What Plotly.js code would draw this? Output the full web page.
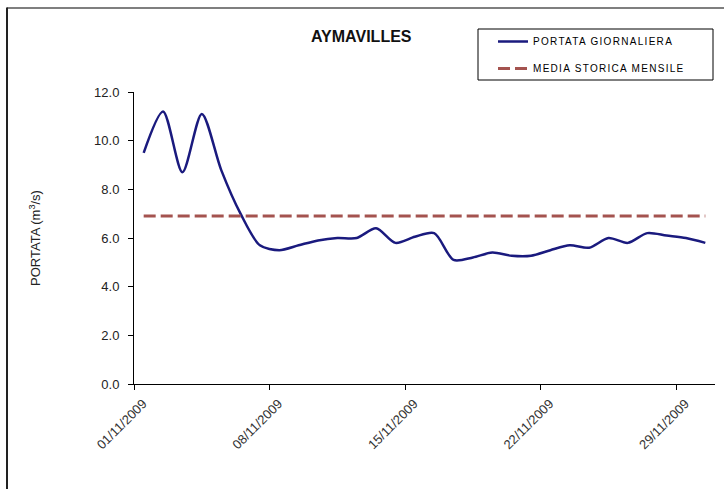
<!DOCTYPE html>
<html>
<head>
<meta charset="utf-8">
<script src="https://cdn.plot.ly/plotly-3.0.1.min.js"></script>
<style>
html,body{margin:0;padding:0;background:#fff;}
#chart{width:724px;height:489px;}
.legendtext{letter-spacing:1.3px;}
</style>
</head>
<body>
<div id="chart"></div>
<script>
// Data
var days = ['2009-11-01','2009-11-02','2009-11-03','2009-11-04','2009-11-05','2009-11-06','2009-11-07','2009-11-08','2009-11-09','2009-11-10',
            '2009-11-11','2009-11-12','2009-11-13','2009-11-14','2009-11-15','2009-11-16','2009-11-17','2009-11-18','2009-11-19','2009-11-20',
            '2009-11-21','2009-11-22','2009-11-23','2009-11-24','2009-11-25','2009-11-26','2009-11-27','2009-11-28','2009-11-29','2009-11-30'];
var portataGiornaliera = [9.5, 11.2, 8.7, 11.1, 8.8, 7.0, 5.7, 5.5, 5.7, 5.9,
                          6.0, 6.0, 6.4, 5.8, 6.05, 6.2, 5.1, 5.2, 5.4, 5.27,
                          5.27, 5.5, 5.7, 5.6, 6.0, 5.8, 6.2, 6.1, 6.0, 5.8];
var mediaStoricaMensile = [6.9, 6.9, 6.9, 6.9, 6.9, 6.9, 6.9, 6.9, 6.9, 6.9,
                           6.9, 6.9, 6.9, 6.9, 6.9, 6.9, 6.9, 6.9, 6.9, 6.9,
                           6.9, 6.9, 6.9, 6.9, 6.9, 6.9, 6.9, 6.9, 6.9, 6.9];
var tickDates = ['2009-11-01','2009-11-08','2009-11-15','2009-11-22','2009-11-29'];
var tickLabels = ['01/11/2009','08/11/2009','15/11/2009','22/11/2009','29/11/2009'];
var seriesNames = ['PORTATA GIORNALIERA','MEDIA STORICA MENSILE'];
var chartTitle = 'AYMAVILLES';
var yTitle = 'PORTATA (m<sup>3</sup>/s)';

// points sit in the middle of each day (Excel date axis style)
var xMid = days.map(function(d){ return d + ' 12:00'; });

var FONT = 'Liberation Sans, Arial, sans-serif';

var traces = [
  {
    x: xMid, y: portataGiornaliera, name: seriesNames[0], type: 'scatter', mode: 'lines',
    line: {color: '#1a1a7e', width: 2.5, shape: 'spline', smoothing: 0.8},
    legendgroup: 'a', hoverinfo: 'x+y'
  },
  {
    x: xMid, y: mediaStoricaMensile, name: seriesNames[1], type: 'scatter', mode: 'lines',
    line: {color: '#a4534f', width: 3, dash: '12px,5px'},
    legendgroup: 'b', hoverinfo: 'x+y'
  }
];

var layout = {
  width: 724, height: 489,
  margin: {l: 134, r: 9, t: 92, b: 105},
  paper_bgcolor: '#fff', plot_bgcolor: '#fff',
  font: {family: FONT, color: '#222'},
  showlegend: true,
  title: {
    text: '<b>' + chartTitle + '</b>',
    font: {family: FONT, size: 16, color: '#111'},
    x: 0.499, xref: 'container', xanchor: 'center',
    y: 1 - 36/489, yref: 'container', yanchor: 'middle'
  },
  xaxis: {
    type: 'date',
    range: ['2009-11-01', '2009-12-01'],
    tickvals: tickDates, ticktext: tickLabels,
    tickangle: -45,
    tickfont: {family: FONT, size: 13, color: '#333'},
    ticks: 'outside', ticklen: 5, tickcolor: '#000', tickwidth: 1,
    ticklabelshift: 9, ticklabelstandoff: 1,
    showline: true, linecolor: '#000', linewidth: 1,
    showgrid: false, zeroline: false, fixedrange: true
  },
  yaxis: {
    range: [0, 12], dtick: 2, tick0: 0, tickformat: '.1f',
    tickfont: {family: FONT, size: 13, color: '#222'},
    ticks: 'outside', ticklen: 5, tickcolor: '#000', tickwidth: 1,
    ticklabelstandoff: 6,
    showline: true, linecolor: '#000', linewidth: 1,
    showgrid: false, zeroline: false, fixedrange: true,
    title: {text: yTitle, font: {family: FONT, size: 13, color: '#222'}, standoff: 50}
  },
  legend: {
    x: (493 - 134) / 581, xanchor: 'left',
    y: 1 + (92 - 27) / 292, yanchor: 'top',
    bgcolor: 'rgba(0,0,0,0)', borderwidth: 0,
    font: {family: FONT, size: 10, color: '#000'},
    tracegroupgap: 8, itemwidth: 30
  },
  shapes: [
    {type: 'rect', xref: 'paper', yref: 'paper',
     x0: (478 - 134) / 581, x1: (713 - 134) / 581,
     y0: 1 + (92 - 80) / 292, y1: 1 + (92 - 29) / 292,
     line: {color: '#000', width: 1}, fillcolor: 'rgba(0,0,0,0)', layer: 'below'},
    {type: 'line', xref: 'paper', yref: 'paper',
     x0: (7 - 134) / 581, x1: (724 - 134) / 581,
     y0: 1 + (92 - 8) / 292, y1: 1 + (92 - 8) / 292,
     line: {color: '#555', width: 1.5}, layer: 'below'},
    {type: 'line', xref: 'paper', yref: 'paper',
     x0: (7 - 134) / 581, x1: (7 - 134) / 581,
     y0: -0.5, y1: 1 + (92 - 7.5) / 292,
     line: {color: '#222', width: 2}, layer: 'below'}
  ]
};

Plotly.newPlot('chart', traces, layout, {displayModeBar: false, staticPlot: true});
</script>
</body>
</html>
